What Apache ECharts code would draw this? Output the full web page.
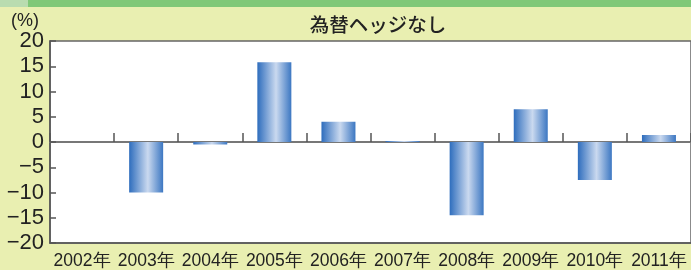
<!DOCTYPE html>
<html><head><meta charset="utf-8">
<script src="https://cdn.jsdelivr.net/npm/echarts@6/dist/echarts.min.js"></script>
<style>html,body{margin:0;padding:0;background:#e9efb1;}#c{width:691px;height:270px;}</style>
</head><body><div id="c"></div>
<script>
const categories = ['2002年','2003年','2004年','2005年','2006年','2007年','2008年','2009年','2010年','2011年'];
const values = [null, -10.0, -0.5, 15.8, 4.0, 0.2, -14.5, 6.5, -7.5, 1.4];
const yTicks = { min: -20, max: 20, interval: 5 };
const title = '為替ヘッジなし';
const unit = '(%)';

const chart = echarts.init(document.getElementById('c'), null, {renderer: 'canvas'});
const barColor = new echarts.graphic.LinearGradient(0, 0, 1, 0, [
  {offset: 0, color: '#2e6dbd'},
  {offset: 0.55, color: '#cad9ef'},
  {offset: 1, color: '#3c77c2'}
]);
chart.setOption({
  backgroundColor: '#e9efb1',
  animation: false,
  graphic: [
    {type: 'rect', left: 0, top: 0, shape: {width: 691, height: 7}, style: {fill: '#80c878'}, z: 10},
    {type: 'rect', left: 0, top: 0, shape: {width: 28, height: 7}, style: {fill: '#b9dcb0'}, z: 11},
    {type: 'text', left: 11, top: 12, style: {text: unit, fontSize: 18, fontFamily: '"Liberation Sans", Arial, sans-serif', fill: '#222'}, z: 10}
  ],
  title: {
    text: title, left: 373, top: 10, textAlign: 'center',
    textStyle: {fontFamily: '"Noto Sans CJK JP", sans-serif', fontSize: 19.5, fontWeight: 500, color: '#222'}
  },
  grid: {left: 50, top: 41, right: -7, bottom: 27, show: true, backgroundColor: '#ffffff', borderColor: '#666', borderWidth: 1.5},
  xAxis: [
    {
      type: 'category', data: categories, position: 'bottom',
      axisLine: {onZero: false, lineStyle: {color: '#555', width: 1.5}},
      axisTick: {show: false},
      axisLabel: {margin: 9, fontSize: 17.5, color: '#222', fontFamily: '"Liberation Sans", Arial, sans-serif', interval: 0}
    },
    {
      type: 'category', data: categories, position: 'bottom',
      axisLine: {onZero: true, lineStyle: {color: '#777', width: 2}},
      axisTick: {show: true, inside: true, length: 9, lineStyle: {color: '#555', width: 1.5}},
      axisLabel: {show: false}
    }
  ],
  yAxis: {
    type: 'value', min: yTicks.min, max: yTicks.max, interval: yTicks.interval,
    axisLine: {show: true, lineStyle: {color: '#555', width: 1.5}},
    axisTick: {show: true, inside: true, length: 6, lineStyle: {color: '#555', width: 1.5}},
    splitLine: {show: false},
    axisLabel: {margin: 6, fontSize: 22, color: '#222', fontFamily: '"Liberation Sans", Arial, sans-serif',
      formatter: v => String(v).replace('-', '−')}
  },
  series: [{
    type: 'bar', data: values, barWidth: 34, xAxisIndex: 0,
    itemStyle: {color: barColor}
  }]
});
</script></body></html>
